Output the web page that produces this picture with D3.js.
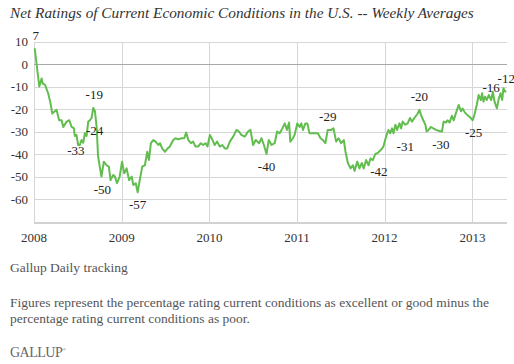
<!DOCTYPE html>
<html lang="en">
<head>
  <meta charset="UTF-8">
  <script src="https://d3js.org/d3.v7.min.js"></script>
  <style>
    body { margin: 0; background: #ffffff; }
    svg { display: block; font-family: "Liberation Serif", "DejaVu Serif", serif; }
    .grid line { stroke: #d6d6d6; stroke-width: 1px; shape-rendering: crispEdges; }
    .zero { stroke: #a8a8a8; stroke-width: 1px; shape-rendering: crispEdges; }
    .base { stroke: #d2d2d2; stroke-width: 2px; shape-rendering: crispEdges; }
    .tick-label { font-size: 13px; fill: #333333; }
    .anno { font-size: 13px; fill: #222222; }
    .note { font-size: 13.5px; fill: #555555; }
  </style>
</head>
<body>
  <div id="chart"></div>
  <script>
    // weekly averages [date, net rating]
    const weekly2008 = [
      ["2008-01-04", 7], ["2008-01-23", -10], ["2008-02-02", -6.4], ["2008-02-06", -8.6],
      ["2008-02-16", -9.3], ["2008-02-29", -13], ["2008-03-10", -17.5], ["2008-03-17", -22],
      ["2008-03-28", -21], ["2008-04-04", -20.4], ["2008-04-15", -25], ["2008-04-25", -25],
      ["2008-05-02", -28], ["2008-05-16", -25.6], ["2008-05-27", -25], ["2008-06-06", -28],
      ["2008-06-15", -28.5], ["2008-06-19", -32], ["2008-06-26", -31.5], ["2008-07-03", -36],
      ["2008-07-10", -36], ["2008-07-17", -33.8], ["2008-07-24", -35], ["2008-07-31", -30.8],
      ["2008-08-07", -32], ["2008-08-14", -25.6], ["2008-08-21", -25], ["2008-08-28", -24],
      ["2008-09-04", -19.5], ["2008-09-11", -21], ["2008-09-18", -28], ["2008-09-24", -41],
      ["2008-10-01", -45.6], ["2008-10-08", -50], ["2008-10-18", -43.4], ["2008-10-29", -45],
      ["2008-11-08", -45.6], ["2008-11-15", -51.6], ["2008-11-26", -49.3], ["2008-12-03", -50],
      ["2008-12-12", -53], ["2008-12-23", -50]
    ];
    const weekly2009 = [
      ["2009-01-02", -43.4], ["2009-01-11", -48.6], ["2009-01-21", -46.4], ["2009-01-31", -51.6],
      ["2009-02-11", -50], ["2009-02-18", -53.8], ["2009-02-28", -53], ["2009-03-08", -57],
      ["2009-03-18", -50.8], ["2009-03-27", -45.6], ["2009-04-07", -45], ["2009-04-17", -39],
      ["2009-04-24", -42.7], ["2009-05-02", -35.2], ["2009-05-12", -33.8], ["2009-05-22", -34.5],
      ["2009-06-02", -36], ["2009-06-09", -35.2], ["2009-06-18", -37.5], ["2009-06-30", -39],
      ["2009-07-11", -37.5], ["2009-07-20", -36.7], ["2009-08-03", -33.8], ["2009-08-13", -33],
      ["2009-08-24", -33.5], ["2009-09-07", -33], ["2009-09-18", -33], ["2009-09-26", -30.5],
      ["2009-10-05", -33.8], ["2009-10-16", -35.2], ["2009-10-25", -34.5], ["2009-11-04", -36.7],
      ["2009-11-15", -36.7], ["2009-11-26", -35.2], ["2009-12-06", -36], ["2009-12-16", -35.2],
      ["2009-12-24", -36.7]
    ];
    const weekly2010 = [
      ["2010-01-03", -31.5], ["2010-01-14", -33.8], ["2010-01-23", -36], ["2010-02-02", -34.5],
      ["2010-02-13", -36.7], ["2010-02-24", -36], ["2010-03-06", -37.5], ["2010-03-16", -37.5],
      ["2010-03-27", -34.5], ["2010-04-10", -32.3], ["2010-04-24", -29.3], ["2010-05-04", -30],
      ["2010-05-14", -31.5], ["2010-05-28", -32.3], ["2010-06-11", -30], ["2010-06-21", -29.3],
      ["2010-07-02", -36], ["2010-07-13", -33.8], ["2010-07-27", -35.2], ["2010-08-06", -33],
      ["2010-08-16", -36], ["2010-08-27", -40], ["2010-09-05", -33.8], ["2010-09-17", -36],
      ["2010-09-30", -35.2], ["2010-10-10", -30], ["2010-10-21", -30.8], ["2010-11-01", -28.6],
      ["2010-11-11", -26.4], ["2010-11-20", -29.3], ["2010-11-29", -26], ["2010-12-04", -34.5],
      ["2010-12-15", -33], ["2010-12-22", -31.5]
    ];
    const weekly2011 = [
      ["2011-01-02", -26.4], ["2011-01-12", -28], ["2011-01-19", -26.4], ["2011-01-26", -29.3],
      ["2011-02-05", -26.4], ["2011-02-13", -26.4], ["2011-02-22", -30.8], ["2011-03-08", -30.8],
      ["2011-03-29", -30.8], ["2011-04-09", -33], ["2011-04-19", -33.8], ["2011-04-29", -35.2],
      ["2011-05-09", -29.3], ["2011-05-24", -29.3], ["2011-06-02", -28.6], ["2011-06-13", -34.5],
      ["2011-06-23", -33], ["2011-07-04", -35.2], ["2011-07-15", -33.8], ["2011-07-22", -39],
      ["2011-08-01", -44], ["2011-08-12", -46.4], ["2011-08-22", -45], ["2011-08-29", -47.5],
      ["2011-09-09", -43.4], ["2011-09-18", -46.4], ["2011-09-28", -44], ["2011-10-06", -46.4],
      ["2011-10-16", -42.7], ["2011-10-26", -45], ["2011-11-03", -42], ["2011-11-13", -42.7],
      ["2011-11-23", -40], ["2011-12-04", -39.5], ["2011-12-18", -38], ["2011-12-27", -36.7]
    ];
    const weekly2012 = [
      ["2012-01-07", -32.3], ["2012-01-17", -29.3], ["2012-01-24", -30.8], ["2012-02-01", -28.6],
      ["2012-02-07", -30.8], ["2012-02-15", -27], ["2012-02-22", -29.3], ["2012-03-03", -26.4],
      ["2012-03-10", -28.6], ["2012-03-16", -25.6], ["2012-03-27", -27], ["2012-04-06", -26.4],
      ["2012-04-16", -24], ["2012-04-24", -25.6], ["2012-05-04", -24], ["2012-05-18", -22],
      ["2012-05-25", -20.4], ["2012-06-01", -22.7], ["2012-06-10", -25], ["2012-06-19", -27],
      ["2012-06-24", -30], ["2012-07-02", -29.3], ["2012-07-12", -28], ["2012-07-22", -28.6],
      ["2012-08-02", -29.3], ["2012-08-16", -29.8], ["2012-08-27", -30], ["2012-09-03", -25.6],
      ["2012-09-13", -26], ["2012-09-19", -25], ["2012-09-28", -26], ["2012-10-07", -23],
      ["2012-10-15", -25], ["2012-10-25", -21.5], ["2012-11-05", -18.2], ["2012-11-14", -21],
      ["2012-11-21", -19.8], ["2012-11-30", -21.5], ["2012-12-11", -22.7], ["2012-12-25", -24]
    ];
    const weekly2013 = [
      ["2013-01-02", -25], ["2013-01-09", -22.7], ["2013-01-19", -18.2], ["2013-01-27", -13.8],
      ["2013-02-05", -16], ["2013-02-10", -13], ["2013-02-16", -16.7], ["2013-02-23", -14.5],
      ["2013-03-02", -16], ["2013-03-10", -13.8], ["2013-03-20", -16], ["2013-03-27", -12.3],
      ["2013-04-03", -16.7], ["2013-04-13", -19.7], ["2013-04-21", -15.3], ["2013-04-28", -13],
      ["2013-05-05", -16], ["2013-05-10", -10.8], ["2013-05-17", -12.3], ["2013-05-22", -12]
    ];

    const yTicks = [10, 0, -10, -20, -30, -40, -50, -60];
    const yearTicks = ["2008", "2009", "2010", "2011", "2012", "2013"];

    // labelled points
    const annoDates = ["2008-01-04", "2008-09-04", "2008-08-28", "2008-07-10", "2008-10-08", "2009-03-08",
      "2010-08-27", "2011-05-09", "2011-12-04", "2012-03-27", "2012-05-25", "2012-08-27",
      "2013-01-02", "2013-03-20", "2013-05-22"];
    const annoValues = [7, -19, -24, -33, -50, -57, -40, -29, -42, -31, -20, -30, -25, -16, -12];
    const annoAbove = [true, true, false, false, false, false, false, true, false, false, true, false, false, true, true];
    const annoNudge = [1, 1, 3, -4, 1, 0, 0, 0, 1, 0, 0, -1, 1, 0, 0];

    const title = "Net Ratings of Current Economic Conditions in the U.S. -- Weekly Averages";
    const source = "Gallup Daily tracking";
    const noteLines = [
      "Figures represent the percentage rating current conditions as excellent or good minus the",
      "percentage rating current conditions as poor."
    ];

    const width = 514, height = 364;
    const parse = d3.timeParse("%Y-%m-%d");
    const series = [].concat(weekly2008, weekly2009, weekly2010, weekly2011, weekly2012, weekly2013)
      .map(d => ({ date: parse(d[0]), value: d[1] }));

    const svg = d3.select("#chart").append("svg")
      .attr("width", width)
      .attr("height", height)
      .style("background", "#ffffff");

    const x = d3.scaleTime()
      .domain([parse("2008-01-01"), parse("2013-05-25")])
      .range([34, 507]);
    const y = d3.scaleLinear()
      .domain([-70, 10])
      .range([221.5, 41.5]);

    svg.append("text")
      .attr("x", 10).attr("y", 18)
      .style("font-size", "15.3px").style("font-style", "italic").style("fill", "#333")
      .text(title);

    // grid
    const grid = svg.append("g").attr("class", "grid");
    grid.selectAll(".h").data(yTicks.filter(v => v !== 0)).enter().append("line")
      .attr("x1", x.range()[0]).attr("x2", x.range()[1])
      .attr("y1", d => Math.round(y(d)) + 0.5).attr("y2", d => Math.round(y(d)) + 0.5);
    grid.selectAll(".v").data(yearTicks).enter().append("line")
      .attr("x1", d => Math.round(x(parse(d + "-01-01"))) + 0.5)
      .attr("x2", d => Math.round(x(parse(d + "-01-01"))) + 0.5)
      .attr("y1", y(10)).attr("y2", y(-70) + 2);
    svg.append("line").attr("class", "zero")
      .attr("x1", x.range()[0]).attr("x2", x.range()[1])
      .attr("y1", Math.round(y(0)) + 0.5).attr("y2", Math.round(y(0)) + 0.5);
    svg.append("line").attr("class", "base")
      .attr("x1", x.range()[0]).attr("x2", x.range()[1])
      .attr("y1", Math.round(y(-70)) + 1).attr("y2", Math.round(y(-70)) + 1);

    // axis labels
    svg.selectAll(".ylab").data(yTicks).enter().append("text")
      .attr("class", "tick-label")
      .attr("x", 28).attr("y", d => y(d) + 4.5)
      .attr("text-anchor", "end")
      .text(d => d);
    svg.selectAll(".xlab").data(yearTicks).enter().append("text")
      .attr("class", "tick-label")
      .attr("x", d => x(parse(d + "-01-01"))).attr("y", 242)
      .attr("text-anchor", "middle")
      .text(d => d);

    // line
    const line = d3.line().x(d => x(d.date)).y(d => y(d.value));
    svg.append("path")
      .datum(series)
      .attr("fill", "none")
      .attr("stroke", "#62bd4f")
      .attr("stroke-width", 2)
      .attr("stroke-linejoin", "round")
      .attr("d", line);

    // value labels
    svg.selectAll(".anno").data(annoValues).enter().append("text")
      .attr("class", "anno")
      .attr("x", (d, i) => x(parse(annoDates[i])) + annoNudge[i])
      .attr("y", (d, i) => y(d) + (annoAbove[i] ? -8 : 17))
      .attr("text-anchor", "middle")
      .text(d => d);

    // footer
    svg.append("text").attr("class", "note").attr("x", 10).attr("y", 272).text(source);
    svg.selectAll(".fn").data(noteLines).enter().append("text")
      .attr("class", "note")
      .attr("x", 10).attr("y", (d, i) => 307 + i * 16)
      .text(d => d);
    const logo = svg.append("text")
      .attr("x", 10).attr("y", 357)
      .style("font-size", "14px").style("fill", "#666")
      .style("letter-spacing", "-0.5px")
      .text("GALLUP");
    logo.append("tspan").attr("dy", -6).style("font-size", "5px").text("®");
  </script>
</body>
</html>
